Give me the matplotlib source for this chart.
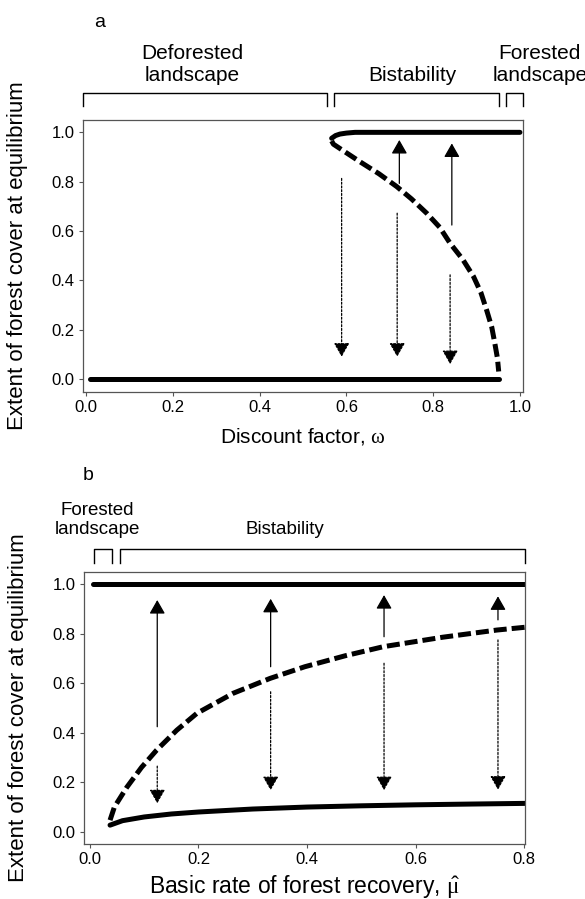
import matplotlib
matplotlib.use("Agg")
import matplotlib.pyplot as plt
import matplotlib.transforms as mtransforms

plt.rcParams['font.family'] = ['Liberation Sans', 'DejaVu Sans']
plt.rcParams['mathtext.fontset'] = 'custom'
plt.rcParams['mathtext.rm'] = 'Liberation Serif'
plt.rcParams['mathtext.it'] = 'Liberation Serif:italic'

# ---- panel a data (discount factor) ----
a_low_x = [0.009, 0.952]
a_low_y = [0.0, 0.0]
a_high_x = [0.566, 0.575, 0.585, 0.60, 0.62, 0.70, 1.0]
a_high_y = [0.976, 0.987, 0.993, 0.997, 1.0, 1.0, 1.0]
a_unst_x = [0.566, 0.570, 0.600, 0.631, 0.675, 0.716, 0.750, 0.785, 0.815,
            0.839, 0.868, 0.893, 0.910, 0.923, 0.935, 0.942, 0.948, 0.951]
a_unst_y = [0.965, 0.952, 0.917, 0.881, 0.832, 0.780, 0.730, 0.672, 0.615,
            0.550, 0.485, 0.415, 0.350, 0.280, 0.210, 0.145, 0.085, 0.030]
a_up_x = [0.722, 0.843]
a_up_from = [0.793, 0.624]
a_up_to = [0.969, 0.955]
a_down_x = [0.589, 0.717, 0.839]
a_down_from = [0.813, 0.672, 0.422]
a_down_to = [0.09, 0.09, 0.06]
a_regions = [(-0.007, 0.555), (0.571, 0.952), (0.968, 1.007)]
a_region_labels = ['Deforested\nlandscape', 'Bistability', 'Forested\nlandscape']
a_label_x = [0.244, 0.753, 1.046]

# ---- panel b data (basic rate of forest recovery) ----
b_high_x = [0.006, 0.81]
b_high_y = [1.0, 1.0]
b_low_x = [0.037, 0.06, 0.10, 0.15, 0.20, 0.30, 0.40, 0.50, 0.60, 0.70, 0.81]
b_low_y = [0.027, 0.045, 0.060, 0.072, 0.080, 0.092, 0.100, 0.105, 0.109, 0.112, 0.115]
b_unst_x = [0.037, 0.045, 0.068, 0.095, 0.123, 0.160, 0.197, 0.264, 0.332,
            0.396, 0.470, 0.541, 0.650, 0.750, 0.81]
b_unst_y = [0.047, 0.100, 0.180, 0.260, 0.330, 0.410, 0.478, 0.559, 0.619,
            0.666, 0.710, 0.747, 0.785, 0.814, 0.827]
b_arrow_x = [0.124, 0.333, 0.542, 0.752]
b_up_from = [0.424, 0.666, 0.787, 0.855]
b_up_to = [0.935, 0.940, 0.955, 0.950]
b_down_from = [0.265, 0.565, 0.680, 0.774]
b_down_to = [0.115, 0.168, 0.168, 0.170]
b_regions = [(0.007, 0.041), (0.055, 0.802)]
b_region_labels = ['Forested\nlandscape', 'Bistability']
b_label_x = [0.013, 0.36]

ylabel = 'Extent of forest cover at equilibrium'


def arrow(ax, x, y0, y1, dotted):
    ls = (0, (1.6, 1.4)) if dotted else '-'
    ax.annotate('', xy=(x, y1), xytext=(x, y0),
                arrowprops=dict(arrowstyle='-|>,head_length=0.7,head_width=0.4',
                                lw=0.9, color='black', linestyle=ls,
                                shrinkA=0, shrinkB=0, mutation_scale=12))


def brackets(ax, regions, y_top, y_leg):
    trans = mtransforms.blended_transform_factory(ax.transData, ax.transAxes)
    for x0, x1 in regions:
        ax.plot([x0, x0, x1, x1], [y_leg, y_top, y_top, y_leg], color='black',
                lw=1.0, transform=trans, clip_on=False)


def style(ax, xticks):
    for s in ax.spines.values():
        s.set_color('#555555')
        s.set_linewidth(0.9)
    ax.set_xticks(xticks)
    ax.set_xticklabels(['%.1f' % t for t in xticks])
    ax.set_yticks([0, 0.2, 0.4, 0.6, 0.8, 1.0])
    ax.set_yticklabels(['%.1f' % t for t in [0, 0.2, 0.4, 0.6, 0.8, 1.0]])
    ax.tick_params(direction='out', length=3, width=0.8, color='#555555',
                   labelsize=12, pad=3)
    ax.set_ylabel(ylabel, fontsize=16)
    ax.yaxis.set_label_coords(-0.125, 0.5)


fig = plt.figure(figsize=(5.85, 8.99), dpi=100)

# panel a
ax = fig.add_axes([0.142, 0.564, 0.752, 0.3025])
ax.plot(a_low_x, a_low_y, color='black', lw=3.6, solid_capstyle='round')
ax.plot(a_high_x, a_high_y, color='black', lw=3.6, solid_capstyle='round')
ax.plot(a_unst_x, a_unst_y, color='black', lw=3.6, dashes=(2.6, 1.0))
for x, y0, y1 in zip(a_up_x, a_up_from, a_up_to):
    arrow(ax, x, y0, y1, False)
for x, y0, y1 in zip(a_down_x, a_down_from, a_down_to):
    arrow(ax, x, y0, y1, True)
ax.set_xlim(-0.007, 1.007)
ax.set_ylim(-0.053, 1.05)
style(ax, [0.0, 0.2, 0.4, 0.6, 0.8, 1.0])
ax.set_xlabel('Discount factor, $\\mathrm{\\omega}$', fontsize=15, labelpad=8)
brackets(ax, a_regions, 1.099, 1.051)
for lab, x in zip(a_region_labels, a_label_x):
    ax.text(x, 1.13, lab, transform=mtransforms.blended_transform_factory(ax.transData, ax.transAxes),
            ha='center', va='bottom', fontsize=15, linespacing=1.15, clip_on=False)
fig.text(0.171, 0.9755, 'a', fontsize=14, ha='center', va='center')

# panel b
ax = fig.add_axes([0.1436, 0.0612, 0.754, 0.3025])
ax.plot(b_high_x, b_high_y, color='black', lw=3.6, solid_capstyle='round')
ax.plot(b_low_x, b_low_y, color='black', lw=3.6, solid_capstyle='round')
ax.plot(b_unst_x, b_unst_y, color='black', lw=3.6, dashes=(2.6, 1.0))
for x, y0, y1 in zip(b_arrow_x, b_up_from, b_up_to):
    arrow(ax, x, y0, y1, False)
for x, y0, y1 in zip(b_arrow_x, b_down_from, b_down_to):
    arrow(ax, x, y0, y1, True)
ax.set_xlim(-0.011, 0.802)
ax.set_ylim(-0.049, 1.048)
style(ax, [0.0, 0.2, 0.4, 0.6, 0.8])
ax.set_xlabel('Basic rate of forest recovery, $\\hat{\\mathrm{\\mu}}$', fontsize=16.5, labelpad=4)
brackets(ax, b_regions, 1.085, 1.033)
for lab, x in zip(b_region_labels, b_label_x):
    ax.text(x, 1.125, lab, transform=mtransforms.blended_transform_factory(ax.transData, ax.transAxes),
            ha='center', va='bottom', fontsize=13.5, linespacing=1.15, clip_on=False)
fig.text(0.150, 0.4716, 'b', fontsize=14, ha='center', va='center')

fig.savefig('out.png', dpi=100)
